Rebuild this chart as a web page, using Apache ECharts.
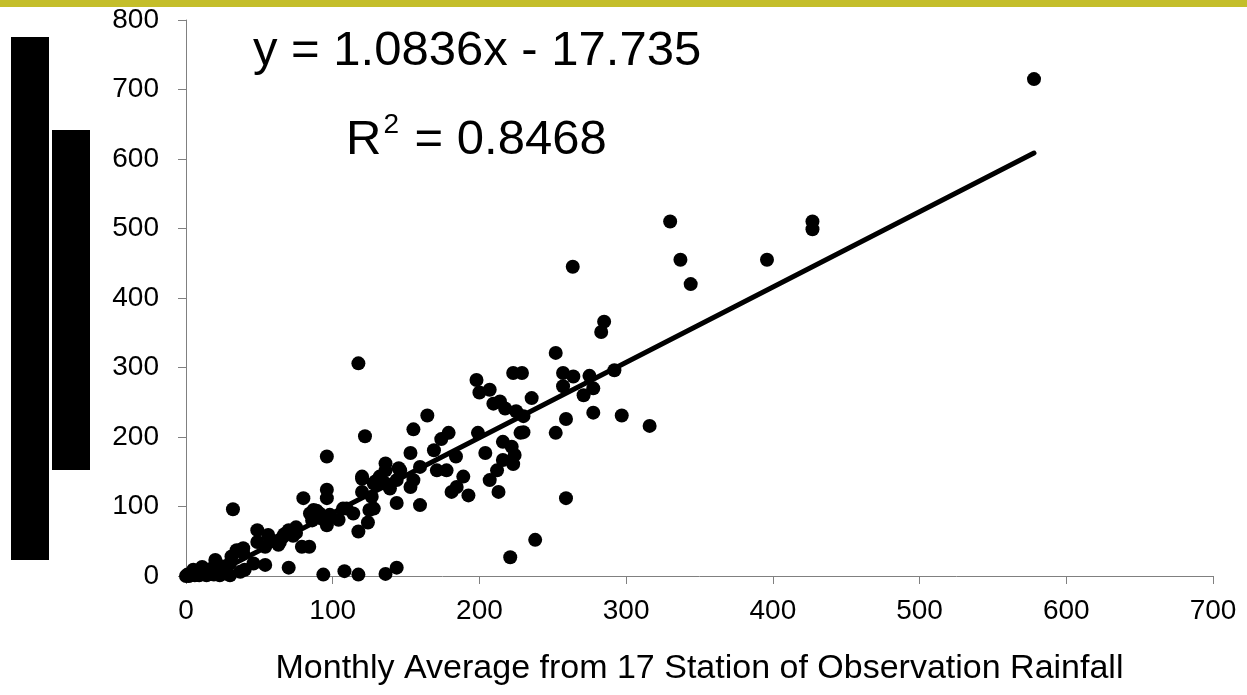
<!DOCTYPE html>
<html>
<head>
<meta charset="utf-8">
<script src="https://cdn.jsdelivr.net/npm/echarts@6/dist/echarts.min.js"></script>
<style>
  html, body { margin: 0; padding: 0; background: #fff; }
  #chart { width: 1247px; height: 695px; }
</style>
</head>
<body>
<div id="chart"></div>
<script>
// 观测点数据 [x, y]
var obsPoints = [
  [0, 0], [1, 2], [2, 0], [3, 1], [4, 3], [5, 9], [6, 1], [7, 4], [8, 2], [9, 1],
  [10, 6], [11, 13], [12, 3], [13, 4], [14, 1], [15, 8], [16, 5], [17, 10], [19, 2], [20, 23],
  [21, 18], [23, 1], [25, 9], [27, 14],
  [30, 1], [30, 18], [31, 28], [32, 96], [34.5, 37], [37, 6], [37, 37], [39, 33], [39, 40], [40, 9],
  [46, 18], [48.6, 66], [48.6, 49], [54, 16], [54, 42], [56, 59], [60, 50], [63, 45], [64, 49], [64, 52],
  [66, 56], [67, 60], [70, 66], [70, 12], [73, 58], [75, 62], [75, 70], [79, 42], [84, 42], [80, 112],
  [84.5, 90], [86, 80], [87, 95], [89, 94], [91, 90], [92, 83], [93.6, 2], [96, 172], [96, 124], [96, 112],
  [96, 85], [96, 73], [98, 88], [104, 81], [107, 97], [108, 7], [109.5, 97], [114, 90], [117.5, 306], [117.5, 64],
  [117.5, 2], [120, 143], [120, 140], [120, 121], [122, 201], [124, 77], [125, 95], [126.6, 114], [128, 133], [128, 97],
  [129, 136], [131, 138], [132, 143], [136, 162], [136, 152], [136, 133], [136, 3], [139, 126], [143.6, 138], [143.6, 105],
  [143.6, 12], [145, 155], [146, 152], [153, 177], [153, 128], [155, 211], [155, 138], [159.5, 157], [159.5, 102], [164.5, 231],
  [169, 181], [171, 152], [174, 197], [177.6, 152], [179, 206], [181, 121], [184, 172], [184.5, 128], [189, 143], [192.5, 116],
  [198, 282], [199, 206], [200, 264], [204, 177], [207, 268], [207, 138], [209.5, 248], [212, 152], [213, 121], [214, 251],
  [216, 193], [216, 167], [217.5, 241], [221, 27], [222, 186], [223, 292], [223, 161], [224, 174], [225, 237], [228, 206],
  [229, 292], [230, 230], [230, 207], [235.6, 256], [238, 52], [252, 321], [252, 206], [257, 292], [257, 273], [259, 112],
  [259, 226], [263.6, 445], [264, 287], [271, 260], [275, 288], [277.6, 270], [277.6, 235], [283, 351], [285, 366], [292, 296],
  [297, 231], [316, 216], [330, 510], [337, 455], [344, 420], [396, 455], [427, 510], [427, 499], [578, 715]
];

// 趋势线两端 (y = 1.0836x - 17.735)
var trendX = [0, 578];
var trendY = [-17.7, 608.6];

var xTicks = [0, 700, 100];   // min, max, interval
var yTicks = [0, 800, 100];

var eqText = 'y = 1.0836x - 17.735';
var r2Value = '0.8468';
var xTitle = 'Monthly Average from 17 Station of Observation Rainfall';

var trendData = trendX.map(function (x, i) { return [x, trendY[i]]; });

var myChart = echarts.init(document.getElementById('chart'));

var font = '"Liberation Sans", Arial, sans-serif';

var option = {
  animation: false,
  grid: { left: 186, right: 34, top: 20, bottom: 119 },
  xAxis: {
    type: 'value',
    min: xTicks[0], max: xTicks[1], interval: xTicks[2],
    splitLine: { show: false },
    axisLine: { lineStyle: { color: '#808080', width: 1 } },
    axisTick: { length: 8, lineStyle: { color: '#808080' } },
    axisLabel: { color: '#000', fontFamily: font, fontSize: 28, margin: 21 },
    name: xTitle,
    nameLocation: 'middle',
    nameGap: 76,
    nameTextStyle: { color: '#000', fontFamily: font, fontSize: 34 }
  },
  yAxis: {
    type: 'value',
    min: yTicks[0], max: yTicks[1], interval: yTicks[2],
    splitLine: { show: false },
    axisLine: { show: true, lineStyle: { color: '#808080', width: 1 } },
    axisTick: { show: true, length: 8, lineStyle: { color: '#808080' } },
    axisLabel: { color: '#000', fontFamily: font, fontSize: 28, margin: 27 }
  },
  series: [
    {
      type: 'line',
      data: trendData,
      showSymbol: false,
      clip: true,
      lineStyle: { color: '#000', width: 5, cap: 'round' },
      z: 3
    },
    {
      type: 'scatter',
      data: obsPoints,
      symbolSize: 14,
      itemStyle: { color: '#000', opacity: 1 },
      z: 4
    }
  ],
  graphic: [
    // 顶部色条
    { type: 'rect', left: 0, top: 0, shape: { width: 1247, height: 7 }, style: { fill: '#c4be2a' } },
    // 左侧两个黑块
    { type: 'rect', left: 11, top: 37, shape: { width: 38, height: 523 }, style: { fill: '#000' } },
    { type: 'rect', left: 52, top: 130, shape: { width: 38, height: 340 }, style: { fill: '#000' } },
    // 回归方程
    { type: 'text', left: 253, top: 27, style: { text: eqText, font: '49px ' + font, fill: '#000' } },
    {
      type: 'text', left: 346, top: 111,
      style: {
        text: '{b|R}{s|2}{b| = ' + r2Value + '}',
        fill: '#000',
        rich: {
          b: { fontSize: 49, fontFamily: font, verticalAlign: 'bottom', lineHeight: 54 },
          s: { fontSize: 28, fontFamily: font, verticalAlign: 'top', lineHeight: 54, padding: [0, 2, 24, 2] }
        }
      }
    }
  ]
};

myChart.setOption(option);
</script>
</body>
</html>
